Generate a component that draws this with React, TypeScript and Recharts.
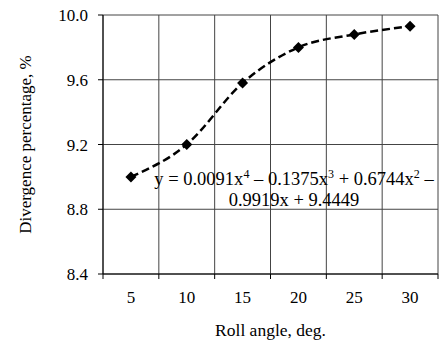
import { LineChart, Line, XAxis, YAxis, CartesianGrid, Label } from 'recharts';

const rollAngles = [5, 10, 15, 20, 25, 30];
const divergence = [9.0, 9.2, 9.58, 9.8, 9.88, 9.93];
const yTicks = [8.4, 8.8, 9.2, 9.6, 10.0];
const xBounds = [2.5, 7.5, 12.5, 17.5, 22.5, 27.5, 32.5];

const data = rollAngles.map((angle, i) => ({ angle, value: divergence[i] }));
const xTicks = [...xBounds, ...rollAngles].sort((a, b) => a - b);

const FONT = 'Liberation Serif, DejaVu Serif, serif';

function XTick(props: any) {
  const { x, y, payload } = props;
  const v = payload.value;
  if (xBounds.includes(v)) {
    return <line x1={x} y1={y} x2={x} y2={y + 5} stroke="#000" strokeWidth={1} />;
  }
  return (
    <text x={x} y={y + 29} textAnchor="middle" style={{ fontSize: 17, fontFamily: FONT }} fill="#000">
      {v}
    </text>
  );
}

function Diamond(props: any) {
  const { cx, cy, index } = props;
  const r = 5.5;
  return (
    <polygon
      key={`d-${index}`}
      points={`${cx},${cy - r} ${cx + r},${cy} ${cx},${cy + r} ${cx - r},${cy}`}
      fill="#000"
    />
  );
}

function YTitle(props: any) {
  const { viewBox } = props;
  const cx = viewBox.x + 25;
  const cy = viewBox.y + viewBox.height / 2;
  return (
    <text
      x={cx}
      y={cy}
      transform={`rotate(-90 ${cx} ${cy})`}
      textAnchor="middle"
      dominantBaseline="central"
      style={{ fontSize: 17, fontFamily: FONT }}
      fill="#000"
    >
      Divergence percentage, %
    </text>
  );
}

function XTitle(props: any) {
  const { viewBox } = props;
  const cx = viewBox.x + viewBox.width / 2;
  return (
    <text x={cx} y={viewBox.y + 62} textAnchor="middle" style={{ fontSize: 17.5, fontFamily: FONT }} fill="#000">
      Roll angle, deg.
    </text>
  );
}

const sup = { fontSize: 12, verticalAlign: 'super', lineHeight: 0 } as const;

export default function App() {
  return (
    <div style={{ position: 'absolute', left: 0, top: 0, width: 442, height: 342, background: '#fff', fontFamily: FONT }}>
      <LineChart width={442} height={342} data={data} margin={{ top: 15, right: 4, left: 0, bottom: 0 }}>
        <CartesianGrid stroke="#444" strokeWidth={1} verticalValues={xBounds} horizontalValues={yTicks} />
        <XAxis
          dataKey="angle"
          type="number"
          domain={[2.5, 32.5]}
          ticks={xTicks}
          interval={0}
          tick={<XTick />}
          tickLine={false}
          tickSize={0}
          tickMargin={0}
          axisLine={{ stroke: '#000' }}
          height={68}
        >
          <Label content={<XTitle />} />
        </XAxis>
        <YAxis
          type="number"
          domain={[8.4, 10.0]}
          ticks={yTicks}
          interval={0}
          tickFormatter={(v: number) => v.toFixed(1)}
          tick={{ fontSize: 17, fontFamily: FONT, fill: '#000', style: { fontFamily: FONT } }}
          tickLine={{ stroke: '#000' }}
          tickSize={5}
          tickMargin={10}
          axisLine={{ stroke: '#000' }}
          width={103}
        >
          <Label content={<YTitle />} />
        </YAxis>
        <Line
          dataKey="value"
          type="monotone"
          stroke="#000"
          strokeWidth={2.5}
          strokeDasharray="8 4"
          dot={Diamond}
          isAnimationActive={false}
        />
      </LineChart>
      <div
        style={{
          position: 'absolute',
          left: 134,
          top: 169,
          width: 320,
          textAlign: 'center',
          fontFamily: FONT,
          fontSize: 18.5,
          lineHeight: '21px',
          color: '#000',
          whiteSpace: 'nowrap',
        }}
      >
        <div>
          y = 0.0091x<span style={sup}>4</span> – 0.1375x<span style={sup}>3</span> + 0.6744x<span style={sup}>2</span> –
        </div>
        <div>0.9919x + 9.4449</div>
      </div>
    </div>
  );
}
